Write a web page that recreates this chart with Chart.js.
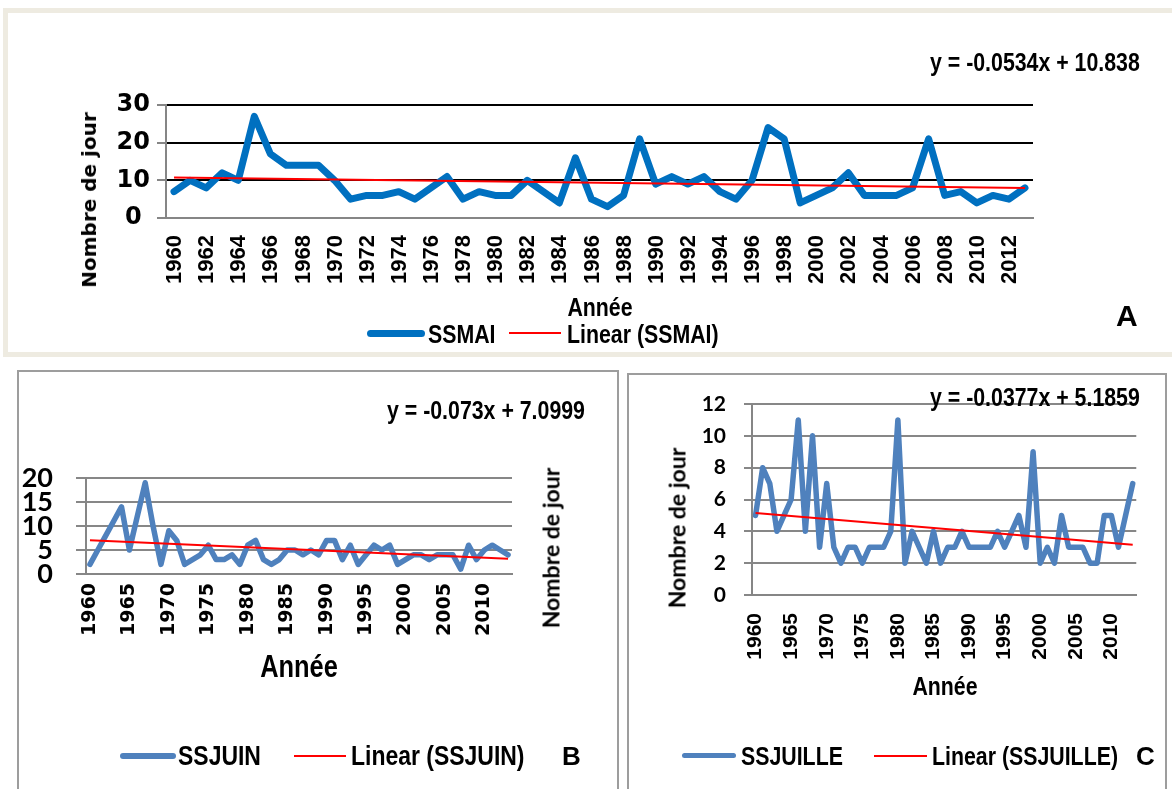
<!DOCTYPE html>
<html><head><meta charset="utf-8">
<script src="https://cdn.jsdelivr.net/npm/chart.js@4.4.1/dist/chart.umd.min.js"></script>
<style>
html,body{margin:0;padding:0;background:#fff;width:1172px;height:789px;overflow:hidden;position:relative;}
canvas{position:absolute;}
.frame{position:absolute;box-sizing:border-box;}
.t{position:absolute;white-space:nowrap;line-height:1;color:#000;font-weight:bold;transform:translateY(-50%);}
.n{font-family:'Liberation Sans',Arial,sans-serif;transform-origin:left center;transform:translateY(-50%) scaleX(0.82);}
.nc{font-family:'Liberation Sans',Arial,sans-serif;transform:translate(-50%,-50%) scaleX(0.82);}
.r{transform:translate(-50%,-50%) rotate(-90deg);}
.s{font-family:'Liberation Sans',Arial,sans-serif;}
.sw{position:absolute;}
</style></head><body>
<div class="frame" style="left:3px;top:8px;width:1180px;height:349px;border:5px solid #EEEBE1;"></div>
<div class="frame" style="left:17px;top:370px;width:602px;height:460px;border:2px solid #9d9d9d;"></div>
<div class="frame" style="left:627px;top:373px;width:540px;height:460px;border:2px solid #9d9d9d;"></div>

<canvas id="cA" width="1172" height="360" style="left:0;top:0"></canvas>
<canvas id="cB" width="620" height="429" style="left:0;top:360px"></canvas>
<canvas id="cC" width="552" height="429" style="left:620px;top:360px"></canvas>

<!-- Chart A texts -->
<div class="t n" style="left:930px;top:62px;font-size:26px;">y = -0.0534x + 10.838</div>
<div class="t r" style="left:89px;top:200px;font-family:'DejaVu Sans';font-size:20px;">Nombre de jour</div>
<div class="t nc" style="left:600px;top:307px;font-size:26px;">Année</div>
<div class="sw" style="left:367px;top:330px;width:58px;height:7px;border-radius:4px;background:#0070C0;"></div>
<div class="t n" style="left:428px;top:334px;font-size:26px;">SSMAI</div>
<div class="sw" style="left:509px;top:332px;width:52px;height:2px;background:#FF0000;"></div>
<div class="t n" style="left:567px;top:334px;font-size:26px;">Linear (SSMAI)</div>
<div class="t s" style="left:1116px;top:316px;font-size:30px;">A</div>

<!-- Chart B texts -->
<div class="t n" style="left:387px;top:410px;font-size:26px;">y = -0.073x + 7.0999</div>
<div class="t r" style="left:551px;top:548px;font-family:Lato;font-size:23px;">Nombre de jour</div>
<div class="t nc" style="left:299px;top:666px;font-size:31px;">Année</div>
<div class="sw" style="left:120px;top:753px;width:56px;height:6px;border-radius:3px;background:#4F81BD;"></div>
<div class="t n" style="left:178px;top:756px;font-size:28px;">SSJUIN</div>
<div class="sw" style="left:294px;top:755px;width:52px;height:2px;background:#FF0000;"></div>
<div class="t n" style="left:351px;top:756px;font-size:28px;">Linear (SSJUIN)</div>
<div class="t s" style="left:562px;top:756px;font-size:26px;">B</div>

<!-- Chart C texts -->
<div class="t n" style="left:930px;top:397px;font-size:26px;">y = -0.0377x + 5.1859</div>
<div class="t r" style="left:677px;top:528px;font-family:Lato;font-size:23px;">Nombre de jour</div>
<div class="t nc" style="left:945px;top:686px;font-size:26px;">Année</div>
<div class="sw" style="left:682px;top:753px;width:54px;height:5px;border-radius:3px;background:#4F81BD;"></div>
<div class="t n" style="left:741px;top:756px;font-size:26px;">SSJUILLE</div>
<div class="sw" style="left:874px;top:755px;width:53px;height:2px;background:#FF0000;"></div>
<div class="t n" style="left:932px;top:756px;font-size:26px;">Linear (SSJUILLE)</div>
<div class="t s" style="left:1136px;top:756px;font-size:26px;">C</div>

<script>
const years = ['1960','1961','1962','1963','1964','1965','1966','1967','1968','1969',
  '1970','1971','1972','1973','1974','1975','1976','1977','1978','1979',
  '1980','1981','1982','1983','1984','1985','1986','1987','1988','1989',
  '1990','1991','1992','1993','1994','1995','1996','1997','1998','1999',
  '2000','2001','2002','2003','2004','2005','2006','2007','2008','2009',
  '2010','2011','2012','2013'];

const ssmai = [7,10,8,12,10,27,17,14,14,14,
  10,5,6,6,7,5,8,11,5,7,
  6,6,10,7,4,16,5,3,6,21,
  9,11,9,11,7,5,10,24,21,4,
  6,8,12,6,6,6,8,21,6,7,
  4,6,5,8];

const ssjuin = [2,5,8,11,14,5,12,19,10,2,
  9,7,2,3,4,6,3,3,4,2,
  6,7,3,2,3,5,5,4,5,4,
  7,7,3,6,2,4,6,5,6,2,
  3,4,4,3,4,4,4,1,6,3,
  5,6,5,4];

const ssjuille = [5,8,7,4,5,6,11,4,10,3,
  7,3,2,3,3,2,3,3,3,4,
  11,2,4,3,2,4,2,3,3,4,
  3,3,3,3,4,3,4,5,3,9,
  2,3,2,5,3,3,3,2,2,5,
  5,3,5,7];

// trend line end values (first and last year)
const trendMai = [10.78, 7.95];
const trendJuin = [7.03, 3.16];
const trendJuille = [5.15, 3.15];

const tickLabelsA = ['1960','1962','1964','1966','1968','1970','1972','1974','1976','1978',
  '1980','1982','1984','1986','1988','1990','1992','1994','1996','1998',
  '2000','2002','2004','2006','2008','2010','2012'];
const tickLabelsBC = ['1960','1965','1970','1975','1980','1985','1990','1995','2000','2005','2010'];

const yTicksA = {min:0, max:30, step:10};
const yTicksB = {min:0, max:20, step:5};
const yTicksC = {min:0, max:12, step:2};

function makeChart(id, cfg) {
  const first = years[0], last = years[years.length - 1];
  return new Chart(document.getElementById(id), {
    type: 'line',
    data: {
      labels: years,
      datasets: [
        {
          label: cfg.name,
          data: cfg.values,
          borderColor: cfg.color,
          borderWidth: cfg.lineWidth,
          pointRadius: 0,
          tension: 0,
          borderJoinStyle: 'round',
          borderCapStyle: 'round',
          fill: false,
          order: 1
        },
        {
          label: 'Linear (' + cfg.name + ')',
          data: [{x: first, y: cfg.trend[0]}, {x: last, y: cfg.trend[1]}],
          borderColor: '#FF0000',
          borderWidth: cfg.trendWidth,
          pointRadius: 0,
          tension: 0,
          fill: false,
          order: 0
        }
      ]
    },
    options: {
      responsive: false,
      animation: false,
      devicePixelRatio: 1,
      layout: {padding: cfg.padding},
      plugins: {legend: {display: false}, tooltip: {enabled: false}},
      scales: {
        x: {
          type: 'category',
          offset: true,
          grid: {display: false, drawTicks: false},
          border: {display: true, color: '#868686', width: 2},
          afterFit: s => { s.height = cfg.xHeight; },
          ticks: {
            autoSkip: false,
            minRotation: 90,
            maxRotation: 90,
            padding: cfg.xPad,
            labelOffset: cfg.xLabelOffset,
            color: '#000',
            font: cfg.xFont,
            callback: function(v, i) {
              const lab = years[i];
              return cfg.tickLabels.includes(lab) ? lab : '';
            }
          }
        },
        y: {
          min: cfg.y.min,
          max: cfg.y.max,
          grid: {
            color: cfg.gridColor,
            tickColor: cfg.tickColor,
            lineWidth: 2,
            tickLength: cfg.tickLength,
            drawTicks: true
          },
          border: {display: true, color: '#868686', width: 2},
          afterFit: s => { s.width = cfg.yWidth; },
          ticks: {
            stepSize: cfg.y.step,
            autoSkip: false,
            padding: cfg.yPad,
            crossAlign: cfg.yAlign,
            color: '#000',
            font: cfg.yFont
          }
        }
      }
    }
  });
}

makeChart('cA', {
  name: 'SSMAI', values: ssmai, trend: trendMai,
  color: '#0070C0', lineWidth: 7, trendWidth: 2,
  padding: {left: 66, top: 105, right: 139, bottom: 0},
  xHeight: 142, yWidth: 100,
  xPad: 17, xLabelOffset: 1,
  xFont: {family: "'Liberation Sans'", size: 22, weight: 'bold', lineHeight: 1},
  tickLabels: tickLabelsA,
  y: yTicksA,
  gridColor: ctx => (ctx.tick && ctx.tick.value === 0) ? '#868686' : '#000000',
  tickColor: '#868686', tickLength: 9,
  yPad: 7, yAlign: 'center',
  yFont: {family: "'DejaVu Sans'", size: 24, weight: 'bold'}
});

makeChart('cB', {
  name: 'SSJUIN', values: ssjuin, trend: trendJuin,
  color: '#4F81BD', lineWidth: 5.5, trendWidth: 2,
  padding: {left: 0, top: 118, right: 108, bottom: 0},
  xHeight: 215, yWidth: 86,
  xPad: 9, xLabelOffset: 0,
  xFont: {family: "'DejaVu Sans'", size: 19, weight: 'bold', lineHeight: 1},
  tickLabels: tickLabelsBC,
  y: yTicksB,
  gridColor: '#878787', tickColor: '#878787', tickLength: 10,
  yPad: 23, yAlign: 'near',
  yFont: {family: 'Lato', size: 27, weight: 'bold', lineHeight: 1}
});

makeChart('cC', {
  name: 'SSJUILLE', values: ssjuille, trend: trendJuille,
  color: '#4F81BD', lineWidth: 5.5, trendWidth: 2,
  padding: {left: 0, top: 44, right: 31, bottom: 0},
  xHeight: 194, yWidth: 132,
  xPad: 18, xLabelOffset: 0,
  xFont: {family: "'Liberation Sans'", size: 21, weight: 'bold', lineHeight: 1},
  tickLabels: tickLabelsBC,
  y: yTicksC,
  gridColor: '#878787', tickColor: '#878787', tickLength: 8,
  yPad: 18, yAlign: 'near',
  yFont: {family: 'Lato', size: 21, weight: 'bold'}
});
</script>
</body></html>
